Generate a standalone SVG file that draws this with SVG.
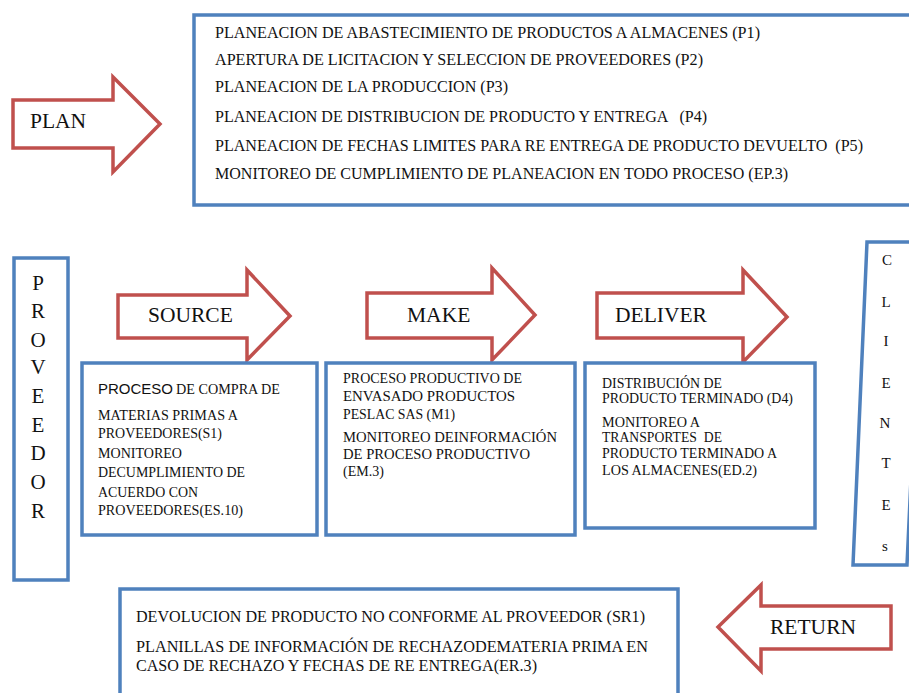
<svg xmlns="http://www.w3.org/2000/svg" width="909" height="693" viewBox="0 0 909 693">
  <style>
    .box { fill: #ffffff; stroke: #4F81BD; stroke-width: 3.5; }
    .arrow { fill: #ffffff; stroke: #C0504D; stroke-width: 3.5; stroke-linejoin: miter; }
    .t { font-family: "Liberation Serif", "Times New Roman", serif; fill: #111111; }
    .plan { font-size: 16px; }
    .small { font-size: 14px; }
    .label { font-size: 21.5px; }
    .vert { font-size: 21px; text-anchor: middle; }
    .vert2 { font-size: 15px; text-anchor: middle; }
    .sans { font-family: "Liberation Sans", Arial, sans-serif; font-size: 15px; fill: #111111; }
  </style>
  <rect width="909" height="693" fill="#ffffff"/>

  <!-- PLAN block: planning activities -->
  <g id="plan-box">
    <rect class="box" x="194" y="15" width="730" height="190"/>
    <text class="t plan" x="215" y="38" textLength="545" lengthAdjust="spacingAndGlyphs">PLANEACION DE ABASTECIMIENTO DE PRODUCTOS A ALMACENES (P1)</text>
    <text class="t plan" x="215" y="65" textLength="488" lengthAdjust="spacingAndGlyphs">APERTURA DE LICITACION Y SELECCION DE PROVEEDORES (P2)</text>
    <text class="t plan" x="215" y="92" textLength="293" lengthAdjust="spacingAndGlyphs">PLANEACION DE LA PRODUCCION (P3)</text>
    <text class="t plan" x="215" y="122" textLength="492" lengthAdjust="spacingAndGlyphs" xml:space="preserve">PLANEACION DE DISTRIBUCION DE PRODUCTO Y ENTREGA   (P4)</text>
    <text class="t plan" x="215" y="151" textLength="648" lengthAdjust="spacingAndGlyphs" xml:space="preserve">PLANEACION DE FECHAS LIMITES PARA RE ENTREGA DE PRODUCTO DEVUELTO  (P5)</text>
    <text class="t plan" x="215" y="179" textLength="573" lengthAdjust="spacingAndGlyphs">MONITOREO DE CUMPLIMIENTO DE PLANEACION EN TODO PROCESO (EP.3)</text>
  </g>

  <!-- Supplier column -->
  <g id="proveedor">
    <rect class="box" x="14" y="258" width="54" height="322"/>
    <text class="t vert" x="38" y="290">P</text>
    <text class="t vert" x="38" y="318">R</text>
    <text class="t vert" x="38" y="347">O</text>
    <text class="t vert" x="38" y="374">V</text>
    <text class="t vert" x="38" y="403">E</text>
    <text class="t vert" x="38" y="432">E</text>
    <text class="t vert" x="38" y="460">D</text>
    <text class="t vert" x="38" y="489">O</text>
    <text class="t vert" x="38" y="518">R</text>
  </g>

  <!-- Customer column (slightly skewed) -->
  <g id="clientes">
    <polygon class="box" points="867,242 922,242 907,565 853,565"/>
    <text class="t vert2" x="887" y="265">C</text>
    <text class="t vert2" x="886" y="307">L</text>
    <text class="t vert2" x="886" y="346">I</text>
    <text class="t vert2" x="886" y="388">E</text>
    <text class="t vert2" x="885" y="428">N</text>
    <text class="t vert2" x="886" y="468">T</text>
    <text class="t vert2" x="886" y="510">E</text>
    <text class="t vert2" x="885" y="551">s</text>
  </g>

  <!-- Block arrows -->
  <g id="arrow-plan">
    <polygon class="arrow" points="13,100 113,100 113,77 160,124 113,172 113,148 13,148"/>
    <text class="t label" x="30" y="128">PLAN</text>
  </g>
  <g id="arrow-source">
    <polygon class="arrow" points="118,295 247,295 247,270 290,316 247,360 247,338 118,338"/>
    <text class="t label" x="148" y="322">SOURCE</text>
  </g>
  <g id="arrow-make">
    <polygon class="arrow" points="367,293 492,293 492,268 535,315 492,360 492,338 367,338"/>
    <text class="t label" x="407" y="322">MAKE</text>
  </g>
  <g id="arrow-deliver">
    <polygon class="arrow" points="597,293 743,293 743,270 787,317 743,362 743,338 597,338"/>
    <text class="t label" x="615" y="322">DELIVER</text>
  </g>
  <g id="arrow-return">
    <polygon class="arrow" points="891,606 761,606 761,585 718,627 761,671 761,649 891,649"/>
    <text class="t label" x="770" y="634">RETURN</text>
  </g>

  <!-- SOURCE activities -->
  <g id="source-box">
    <rect class="box" x="82" y="363" width="235" height="172"/>
    <text x="98" y="394"><tspan class="sans" textLength="75" lengthAdjust="spacingAndGlyphs">PROCESO</tspan><tspan class="t small" dx="3" textLength="104" lengthAdjust="spacingAndGlyphs">DE COMPRA DE</tspan></text>
    <text class="t small" x="98" y="420" textLength="140" lengthAdjust="spacingAndGlyphs">MATERIAS PRIMAS A</text>
    <text class="t small" x="98" y="438" textLength="124" lengthAdjust="spacingAndGlyphs">PROVEEDORES(S1)</text>
    <text class="t small" x="98" y="458" textLength="84" lengthAdjust="spacingAndGlyphs">MONITOREO</text>
    <text class="t small" x="98" y="477" textLength="147" lengthAdjust="spacingAndGlyphs">DECUMPLIMIENTO DE</text>
    <text class="t small" x="98" y="497" textLength="100" lengthAdjust="spacingAndGlyphs">ACUERDO CON</text>
    <text class="t small" x="98" y="515" textLength="145" lengthAdjust="spacingAndGlyphs">PROVEEDORES(ES.10)</text>
  </g>

  <!-- MAKE activities -->
  <g id="make-box">
    <rect class="box" x="326" y="363" width="249" height="172"/>
    <text class="t small" x="343" y="383" textLength="179" lengthAdjust="spacingAndGlyphs">PROCESO PRODUCTIVO DE</text>
    <text class="t small" x="343" y="401" textLength="172" lengthAdjust="spacingAndGlyphs">ENVASADO PRODUCTOS</text>
    <text class="t small" x="343" y="419" textLength="112" lengthAdjust="spacingAndGlyphs">PESLAC SAS (M1)</text>
    <text class="t small" x="343" y="442" textLength="214" lengthAdjust="spacingAndGlyphs">MONITOREO DEINFORMACIÓN</text>
    <text class="t small" x="343" y="459" textLength="187" lengthAdjust="spacingAndGlyphs">DE PROCESO PRODUCTIVO</text>
    <text class="t small" x="343" y="476">(EM.3)</text>
  </g>

  <!-- DELIVER activities -->
  <g id="deliver-box">
    <rect class="box" x="585" y="363" width="230" height="165"/>
    <text class="t small" x="602" y="388" textLength="120" lengthAdjust="spacingAndGlyphs">DISTRIBUCIÓN DE</text>
    <text class="t small" x="602" y="403" textLength="191" lengthAdjust="spacingAndGlyphs">PRODUCTO TERMINADO (D4)</text>
    <text class="t small" x="602" y="427" textLength="98" lengthAdjust="spacingAndGlyphs">MONITOREO A</text>
    <text class="t small" x="602" y="442" textLength="120" lengthAdjust="spacingAndGlyphs" xml:space="preserve">TRANSPORTES  DE</text>
    <text class="t small" x="602" y="458" textLength="175" lengthAdjust="spacingAndGlyphs">PRODUCTO TERMINADO A</text>
    <text class="t small" x="602" y="475" textLength="155" lengthAdjust="spacingAndGlyphs">LOS ALMACENES(ED.2)</text>
  </g>

  <!-- RETURN activities -->
  <g id="return-box">
    <rect class="box" x="120" y="589" width="558" height="130"/>
    <text class="t plan" x="136" y="622" textLength="509" lengthAdjust="spacingAndGlyphs">DEVOLUCION DE PRODUCTO NO CONFORME AL PROVEEDOR (SR1)</text>
    <text class="t plan" x="136" y="652" textLength="512" lengthAdjust="spacingAndGlyphs">PLANILLAS DE INFORMACIÓN DE RECHAZODEMATERIA PRIMA EN</text>
    <text class="t plan" x="136" y="671" textLength="401" lengthAdjust="spacingAndGlyphs">CASO DE RECHAZO Y FECHAS DE RE ENTREGA(ER.3)</text>
  </g>

  <!-- no line connectors: flow is shown by the block arrows above -->
  <g id="connectors"/>
</svg>
